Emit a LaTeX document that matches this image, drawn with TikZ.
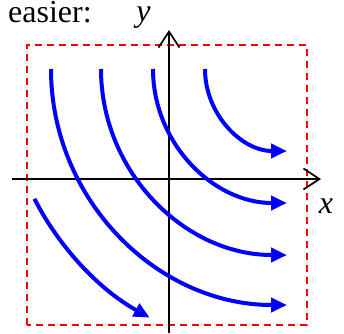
\documentclass[tikz,border=0pt]{standalone}
\usepackage{fontspec}
\setmainfont{Liberation Serif}
\usetikzlibrary{arrows.meta}
\begin{document}
\begin{tikzpicture}[x=1pt,y=1pt,
  axis/.style={line width=1.7pt,black,-{Straight Barb[length=16pt,width=21pt,line width=1.7pt]}},
  box/.style={red,line width=1.8pt,dash pattern=on 7pt off 5pt},
  flow/.style={blue,line width=4pt,-{Triangle[length=16pt,width=14pt]}},
  lab/.style={inner sep=0pt,font=\fontsize{32}{37}\selectfont}]
\useasboundingbox (0,0) rectangle (344,333);
\draw[box] (27,8) rectangle (307,288);
\coordinate (xs) at (12,154);
\coordinate (xe) at (321,154);
\coordinate (ys) at (169,0);
\coordinate (ye) at (169,303);
\draw[axis] (xs) -- (xe);
\draw[axis] (ys) -- (ye);
\coordinate (c) at (287,264);
\draw[flow] ([shift={(180:82)}]c) arc[start angle=180,end angle=270,radius=82];
\draw[flow] ([shift={(180:134)}]c) arc[start angle=180,end angle=270,radius=134];
\draw[flow] ([shift={(180:186)}]c) arc[start angle=180,end angle=270,radius=186];
\draw[flow] ([shift={(180:236)}]c) arc[start angle=180,end angle=270,radius=236];
\draw[flow] ([shift={(207.2:284)}]c) arc[start angle=207.2,end angle=241.1,radius=284];
\node[lab,anchor=base west] (t) at (8,310.5) {easier:};
\node[lab,anchor=base] (ly) at (143.5,312) {\itshape y};
\node[lab,anchor=base] (lx) at (326,120) {\itshape x};
\end{tikzpicture}
\end{document}
